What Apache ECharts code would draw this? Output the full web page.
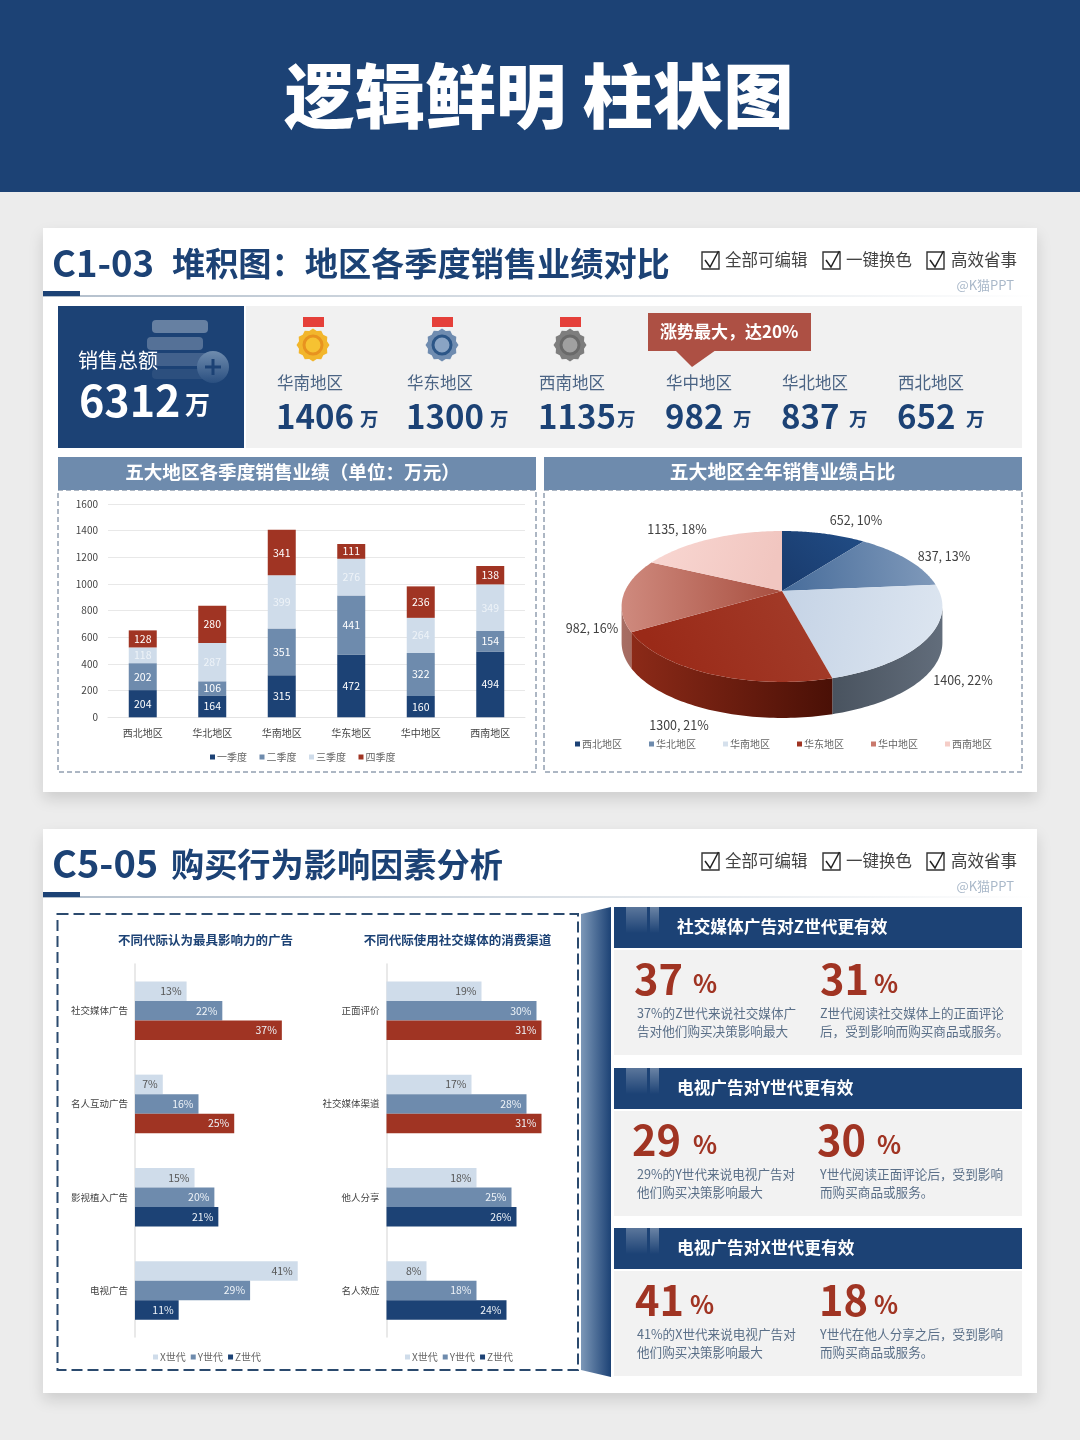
<!DOCTYPE html>
<html lang="zh"><head><meta charset="utf-8"><title>逻辑鲜明 柱状图</title>
<style>html,body{margin:0;padding:0;background:#ececec}#c{width:1080px;height:1440px}</style>
<script src="https://cdn.jsdelivr.net/npm/echarts@6/dist/echarts.min.js"></script></head>
<body><div id="c"></div><script>
// ---------- data ----------
const regions = ['西北地区','华北地区','华南地区','华东地区','华中地区','西南地区'];
const q1 = [204,164,315,472,160,494];
const q2 = [202,106,351,441,322,154];
const q3 = [118,287,399,276,264,349];
const q4 = [128,280,341,111,236,138];
const quarterNames = ['一季度','二季度','三季度','四季度'];
const yearTotals = [652,837,1406,1300,982,1135];
const genNames = ['X世代','Y世代','Z世代'];
const adCats = ['社交媒体广告','名人互动广告','影视植入广告','电视广告'];
const adX = [13,7,15,41];
const adY = [22,16,20,29];
const adZ = [37,25,21,11];
const chanCats = ['正面评价','社交媒体渠道','他人分享','名人效应'];
const chanX = [19,17,18,8];
const chanY = [30,28,25,18];
const chanZ = [31,31,26,24];
const rankNames = ['华南地区','华东地区','西南地区','华中地区','华北地区','西北地区'];
const rankValues = [1406,1300,1135,982,837,652];

// ---------- style ----------
const NAVY='#1c4275', STEEL='#6e8bad', PALE='#cfdcea', RED='#a03423', F='"Noto Sans CJK SC","Noto Sans",sans-serif';
const chart = echarts.init(document.getElementById('c'), null, {renderer:'canvas'});
const G=[];
function rect(x,y,w,h,fill,extra){G.push({type:'rect',silent:true,shape:{x,y,width:w,height:h,r:(extra&&extra.r)||0},style:Object.assign({fill},extra&&extra.style||{})});}
function txt(x,y,t,size,color,weight,align,extra){G.push({type:'text',silent:true,style:Object.assign({x,y,text:t,fontSize:size,fontFamily:F,fontWeight:weight||'normal',fill:color,textAlign:align||'left',textVerticalAlign:'middle'},extra||{})});}
function poly(points,fill,extra){G.push({type:'polygon',silent:true,shape:{points},style:Object.assign({fill},extra||{})});}
function lg(x,y,x2,y2,a,b){return {type:'linear',x,y,x2,y2,colorStops:[{offset:0,color:a},{offset:1,color:b}]};}
function card(y,h){rect(43,y,994,h,'#fff',{style:{shadowBlur:14,shadowOffsetY:7,shadowColor:'rgba(0,0,0,.13)'}});}
function checks(dy){
  [[702,725,'全部可编辑'],[823,846,'一键换色'],[927,951,'高效省事']].forEach(c=>{
    rect(c[0],252+dy,17,17,'none',{style:{stroke:'#333',lineWidth:1.4}});
    G.push({type:'polyline',silent:true,shape:{points:[[c[0]+3,260+dy],[c[0]+8,267+dy],[c[0]+16.5,251+dy]]},style:{stroke:'#222',lineWidth:1.5,fill:'none'}});
    txt(c[1],260+dy,c[2],16.5,'#444');
  });
  txt(1014,285+dy,'@K猫PPT',13,'#a9b8c9','normal','right');
  rect(43,295+dy,994,2,lg(0,0,1,0,'#b3bfcc','#ffffff'));
  rect(43,291+dy,37,5,NAVY);
}
function medal(cx,cy,c1,c2,c3){
  rect(cx-10,317,21,10,'#e5403a');
  const pts=[];const n=24;for(let i=0;i<n;i++){const a=i/n*Math.PI*2;const r=i%2?14.5:16.5;pts.push([cx+r*Math.cos(a),cy+r*Math.sin(a)]);}
  poly(pts,c1);
  G.push({type:'circle',silent:true,shape:{cx,cy,r:9},style:{fill:c3,stroke:c2,lineWidth:3}});
}

// page
rect(0,0,1080,192,NAVY);
txt(539,96,'逻辑鲜明 柱状图',70.5,'#fff','900','center');
card(228,564); card(829,564);

// card 1 head
txt(52,263,'C1-03',36.5,NAVY,'bold');
txt(172,263,'堆积图：地区各季度销售业绩对比',33.2,NAVY,'bold');
checks(0);
// KPI
rect(246,306,776,142,'#f1f1f1');
rect(58,306,186,142,NAVY);
rect(152,320,56,13,'rgba(255,255,255,.33)',{r:4});
rect(147,337,56,13,'rgba(255,255,255,.25)',{r:4});
rect(152,353,56,13,'rgba(255,255,255,.17)',{r:4});
rect(152,369,56,10,'rgba(255,255,255,.07)',{r:4});
G.push({type:'circle',silent:true,shape:{cx:213,cy:367,r:16},style:{fill:lg(0,0,0,1,'#6f8cae','#2a4f80')}});
rect(205,365.5,16,3,'#1c4275'); rect(211.5,359,3,16,'#1c4275');
txt(78,360,'销售总额',20,'#fff');
txt(79,401,'6312',43,'#fff','bold');
txt(185,404,'万',25,'#fff','bold');
medal(313,345,'#f2b62c','#e8931f','#f6c232');
medal(442,345,'#6f8cb0','#2c5687','#8aa4c4');
medal(570,345,'#7e7e7e','#6a6a6a','#a0a0a0');
const rankX=[277,407,539,666,782,898], wanX=[360,490,617,733,849,966];
rankNames.forEach((n,i)=>{
  txt(rankX[i],383,n,16.5,'#4b6484');
  txt(rankX[i]-1,416,String(rankValues[i]),33,NAVY,'bold');
  txt(wanX[i],419,'万',18.5,NAVY,'bold');
});
rect(648,313,163,38,'#ad5044');
poly([[675,350],[716,350],[692,367]],'#ad5044');
txt(660,332,'涨势最大，达20%',17,'#fff','bold');
// section heads
rect(58,490,478,282,'none',{style:{stroke:'#5a6f88',lineWidth:1,lineDash:[5,3]}});
rect(544,490,478,282,'none',{style:{stroke:'#5a6f88',lineWidth:1,lineDash:[5,3]}});
rect(58,457,478,33,STEEL); rect(544,457,478,33,STEEL);
txt(292.5,472,'五大地区各季度销售业绩（单位：万元）',18.6,'#fff','bold','center');
txt(782.5,472,'五大地区全年销售业绩占比',18.8,'#fff','bold','center');

// card 2 head
txt(52,864,'C5-05',38,NAVY,'bold');
txt(171,864,'购买行为影响因素分析',33.2,NAVY,'bold');
checks(601);
rect(57.5,914,520.5,456,'none',{style:{stroke:'#2b4a6e',lineWidth:2,lineDash:[11,5]}});
txt(205.5,940,'不同代际认为最具影响力的广告',12.5,NAVY,'bold','center');
txt(457.5,940,'不同代际使用社交媒体的消费渠道',12.5,NAVY,'bold','center');
poly([[581,914],[611,907],[611,1377],[581,1370]],lg(0,0,1,0,'#7d98b8','#1c4275'));
// right panels
const panels=[
 {y:907,h:'社交媒体广告对Z世代更有效',a:['37','%',634,693],b:['31','%',820,874],t1:['37%的Z世代来说社交媒体广','告对他们购买决策影响最大',637],t2:['Z世代阅读社交媒体上的正面评论','后，受到影响而购买商品或服务。',820]},
 {y:1068,h:'电视广告对Y世代更有效',a:['29','%',632,693],b:['30','%',817,877],t1:['29%的Y世代来说电视广告对','他们购买决策影响最大',637],t2:['Y世代阅读正面评论后，受到影响','而购买商品或服务。',820]},
 {y:1228,h:'电视广告对X世代更有效',a:['41','%',635,690],b:['18','%',819,874],t1:['41%的X世代来说电视广告对','他们购买决策影响最大',637],t2:['Y世代在他人分享之后，受到影响','而购买商品或服务。',820]}
];
panels.forEach(p=>{
  rect(614,p.y,408,41,NAVY);
  rect(614,p.y+43,408,105,'#f2f2f2');
  rect(626,p.y,21,26,lg(0,0,0,1,'rgba(255,255,255,.28)','rgba(255,255,255,0)'));
  rect(650,p.y,9,26,lg(0,0,0,1,'rgba(255,255,255,.35)','rgba(255,255,255,0)'));
  txt(677,p.y+20,p.h,16.7,'#fff','bold');
  [p.a,p.b].forEach(n=>{txt(n[2],p.y+72.5,n[0],41.5,RED,'bold');txt(n[3],p.y+76.5,n[1],25,RED,'bold');});
  [p.t1,p.t2].forEach(t=>{txt(t[2],p.y+106,t[0],12.6,'#5a6f88');txt(t[2],p.y+124.5,t[1],12.6,'#5a6f88');});
});

// ---------- 3D pie (custom series from yearTotals) ----------
const pieSum=yearTotals.reduce((a,b)=>a+b,0);
const P={cx:782,cy:591,b:157,a:72.3,k:0.205,depth:36};
function proj(th,off){const u=Math.sin(th),v=Math.cos(th),d=1+P.k*v;return [P.cx+P.b*u/d,P.cy-P.a*v/d+(off||0)];}
const pieTop=[['#204a82','#1a3d70'],['#7f99ba','#486d9b'],['#dce5f0','#c6d4e6'],['#9a2a18','#a23a28'],['#cf8a7e','#a84f40'],['#f8d5d0','#f1c6c0']];
const pieSide=[['#163768','#163768'],['#3f6593','#3f6593'],['#49535f','#626d7b'],['#8c2a18','#4a1006'],['#a86e64','#a46a60'],['#f0c3bc','#f0c3bc']];
const pieLegendColor=['#1c4275','#6e8bad','#d5e0ec','#a03423','#c9796c','#f5cdc7'];
const pieLabelAt=[[856,520],[944,556],[963,680],[679,725],[592,628],[677,529]];
const VIS0=101.8*Math.PI/180, VIS1=258.2*Math.PI/180;
function pieRender(i){return function(){
  let before=0;for(let j=0;j<i;j++)before+=yearTotals[j];
  const th0=before/pieSum*2*Math.PI, th1=(before+yearTotals[i])/pieSum*2*Math.PI;
  const STEPS=60,kids=[];
  const a0=Math.max(th0,VIS0),a1=Math.min(th1,VIS1);
  if(a1>a0){
    const top=[],bot=[];
    for(let s=0;s<=STEPS;s++){const t=a0+(a1-a0)*s/STEPS;top.push(proj(t));bot.push(proj(t,P.depth));}
    kids.push({type:'polygon',shape:{points:top.concat(bot.reverse())},style:{fill:lg(0,0,1,0,pieSide[i][0],pieSide[i][1])}});
  }
  const pts=[[P.cx,P.cy]];
  for(let s=0;s<=STEPS;s++)pts.push(proj(th0+(th1-th0)*s/STEPS));
  const mid=(th0+th1)/2;
  const pOut=proj(mid);
  const len=Math.hypot(pOut[0]-P.cx,pOut[1]-P.cy)||1;
  kids.push({type:'polygon',shape:{points:pts},style:{fill:lg(.5+.5*(pOut[0]-P.cx)/len,.5+.5*(pOut[1]-P.cy)/len,.5-.5*(pOut[0]-P.cx)/len,.5-.5*(pOut[1]-P.cy)/len,pieTop[i][0],pieTop[i][1])}});
  const at=pieLabelAt[i];
  kids.push({type:'text',style:{x:at[0],y:at[1],text:yearTotals[i]+', '+Math.round(yearTotals[i]/pieSum*100)+'%',fontFamily:F,fontSize:12.5,fill:'#404040',textAlign:'center',textVerticalAlign:'middle'}});
  return {type:'group',children:kids};
};}
const pieSeries=regions.map((name,i)=>({type:'custom',name,coordinateSystem:'none',silent:true,animation:false,
  data:[[yearTotals[i]]],itemStyle:{color:pieLegendColor[i]},renderItem:pieRender(i)}));

// ---------- bar helpers ----------
function stack(name,data,color,labelColor,idx){return {type:'bar',name,stack:'q',xAxisIndex:0,yAxisIndex:0,barWidth:28,animation:false,data,
  itemStyle:{color},label:{show:true,position:'inside',color:labelColor,fontSize:10.5,fontFamily:F}};}
function hbar(name,vals,color,labelColor,gi,accent){return {type:'bar',name,xAxisIndex:gi,yAxisIndex:gi,barWidth:19.5,barGap:0,animation:false,
  data:vals.map((v,i)=>accent&&i<2?{value:v,itemStyle:{color:RED}}:v),itemStyle:{color},
  label:{show:true,position:'insideRight',distance:5,formatter:'{c}%',color:labelColor,fontSize:10.5,fontFamily:F}};}
const legendBase={icon:'rect',itemWidth:5,itemHeight:5,selectedMode:false,padding:0,textStyle:{color:'#666',fontSize:10,fontFamily:F,padding:[0,0,0,-3]}};
function hCat(cats,gi){return {type:'category',gridIndex:gi,data:cats,inverse:true,axisTick:{show:false},axisLine:{lineStyle:{color:'#e2e2e2',width:1.5}},axisLabel:{color:'#444',fontSize:9.5,fontFamily:F,margin:7}};}

chart.setOption({
  animation:false,
  textStyle:{fontFamily:F},
  graphic:{elements:G},
  grid:[
    {left:108,top:504,width:417,height:213.3,containLabel:false},
    {left:135,top:964,width:178.6,height:373},
    {left:386.5,top:964,width:175,height:373}
  ],
  xAxis:[
    {type:'category',gridIndex:0,data:regions,axisTick:{show:false},axisLine:{lineStyle:{color:'#e4e4e4'}},axisLabel:{color:'#444',fontSize:10,fontFamily:F,margin:11}},
    {type:'value',gridIndex:1,min:0,max:45,show:false},
    {type:'value',gridIndex:2,min:0,max:35,show:false}
  ],
  yAxis:[
    {type:'value',gridIndex:0,min:0,max:1600,interval:200,axisLine:{show:false},axisTick:{show:false},axisLabel:{color:'#444',fontSize:10,fontFamily:F,margin:10,formatter:v=>String(v)},splitLine:{lineStyle:{color:'#e8e8e8'}}},
    hCat(adCats,1),hCat(chanCats,2)
  ],
  legend:[
    Object.assign({},legendBase,{data:quarterNames,left:210,top:752,itemGap:12.5}),
    Object.assign({},legendBase,{data:regions,left:575,top:739,itemGap:27}),
    Object.assign({},legendBase,{data:genNames,left:153,top:1352,itemGap:5}),
    Object.assign({},legendBase,{data:genNames,left:405,top:1352,itemGap:5})
  ],
  series:[
    stack(quarterNames[0],q1,NAVY,'#fff'),
    stack(quarterNames[1],q2,STEEL,'#fff'),
    stack(quarterNames[2],q3,PALE,'#eef3f8'),
    stack(quarterNames[3],q4,RED,'#fff'),
    hbar(genNames[0],adX,PALE,'#555',1),
    hbar(genNames[1],adY,STEEL,'#eef3f8',1),
    hbar(genNames[2],adZ,NAVY,'#eef3f8',1,true),
    hbar(genNames[0],chanX,PALE,'#555',2),
    hbar(genNames[1],chanY,STEEL,'#eef3f8',2),
    hbar(genNames[2],chanZ,NAVY,'#eef3f8',2,true)
  ].concat(pieSeries)
});
</script></body></html>
